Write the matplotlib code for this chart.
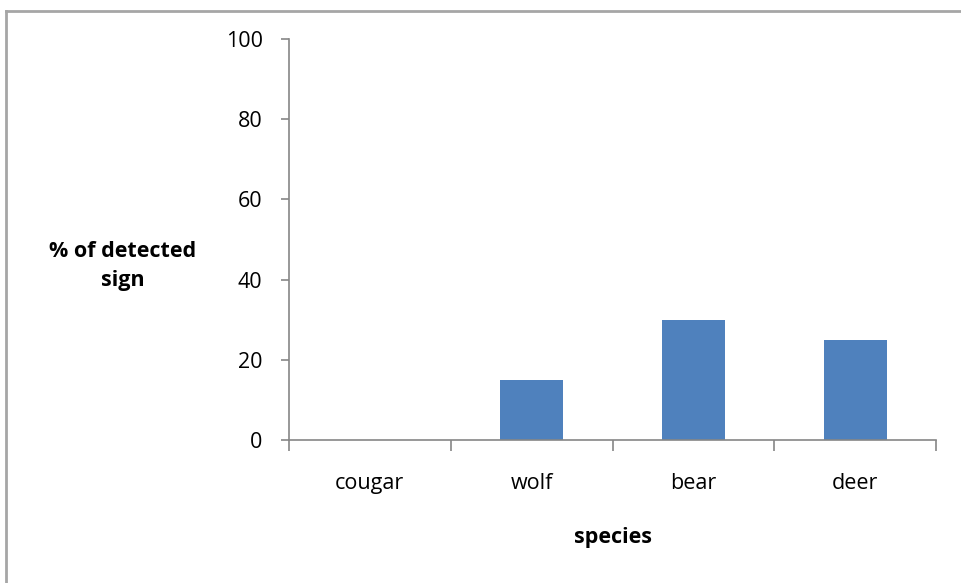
import matplotlib
matplotlib.use("Agg")
import matplotlib.pyplot as plt
from matplotlib.lines import Line2D
import numpy as np

species = ["cougar", "wolf", "bear", "deer"]
pct_detected = [0, 15, 30, 25]
y_ticks = [0, 20, 40, 60, 80, 100]

plt.rcParams['font.family'] = ['Open Sans', 'DejaVu Sans']
FS = 15.5

fig = plt.figure(figsize=(9.61, 5.83), dpi=100)
ax = fig.add_axes([289/961, 1 - 440/583, (936 - 289)/961, (440 - 39)/583])

x = np.arange(len(species))
ax.bar(x, pct_detected, width=0.39, color="#4F81BD", zorder=2)

ax.set_xlim(-0.5, len(species) - 0.5)
ax.set_ylim(0, 100)
ax.set_yticks(y_ticks)
ax.set_yticklabels([str(v) for v in y_ticks], fontsize=FS)

# category labels sit between the boundary ticks
ax.set_xticks(np.arange(len(species) + 1) - 0.5)
ax.set_xticklabels([])
ax.set_xticks(x, minor=True)
ax.set_xticklabels(species, minor=True, fontsize=FS)
ax.tick_params(axis="x", which="minor", length=0, pad=24)
ax.tick_params(axis="x", which="major", length=8, color="#868686", width=1.2)
ax.tick_params(axis="y", length=6, color="#868686", width=1.2, pad=13)

for side in ["top", "right"]:
    ax.spines[side].set_visible(False)
for side in ["left", "bottom"]:
    ax.spines[side].set_color("#868686")
    ax.spines[side].set_linewidth(1.2)

fig.text(123/961, 1 - 266/583, "% of detected\nsign", ha="center", va="center",
         fontsize=FS, fontweight="bold", linespacing=1.55)
fig.text(613/961, 1 - 537/583, "species", ha="center", va="center",
         fontsize=FS, fontweight="bold")

# chart area border (only top and left edges fall inside the image)
fig.add_artist(Line2D([6/961, 1.0], [1 - 11/583, 1 - 11/583], color="#A6A6A6", lw=2))
fig.add_artist(Line2D([6/961, 6/961], [0.0, 1 - 11/583], color="#A6A6A6", lw=2))

fig.savefig("out.png", dpi=100)
